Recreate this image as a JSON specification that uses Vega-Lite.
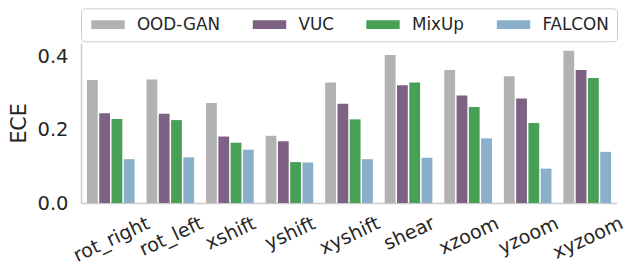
{
  "$schema": "https://vega.github.io/schema/vega-lite/v6.json",
  "width": 536,
  "height": 160,
  "autosize": "none",
  "padding": {"left": 81, "top": 43, "right": 8, "bottom": 62},
  "config": {
    "view": {"stroke": null},
    "font": "DejaVu Sans",
    "axis": {"grid": false, "ticks": false, "domainColor": "#cccccc", "domainWidth": 1.5, "labelColor": "#262626", "titleColor": "#262626", "labelFont": "DejaVu Sans", "titleFont": "DejaVu Sans"}
  },
  "data": {
    "values": [
      {"transform": "rot_right", "method": "OOD-GAN", "ece": 0.337},
      {"transform": "rot_right", "method": "VUC", "ece": 0.246},
      {"transform": "rot_right", "method": "MixUp", "ece": 0.230},
      {"transform": "rot_right", "method": "FALCON", "ece": 0.120},
      {"transform": "rot_left", "method": "OOD-GAN", "ece": 0.338},
      {"transform": "rot_left", "method": "VUC", "ece": 0.244},
      {"transform": "rot_left", "method": "MixUp", "ece": 0.227},
      {"transform": "rot_left", "method": "FALCON", "ece": 0.125},
      {"transform": "xshift", "method": "OOD-GAN", "ece": 0.274},
      {"transform": "xshift", "method": "VUC", "ece": 0.182},
      {"transform": "xshift", "method": "MixUp", "ece": 0.165},
      {"transform": "xshift", "method": "FALCON", "ece": 0.146},
      {"transform": "yshift", "method": "OOD-GAN", "ece": 0.184},
      {"transform": "yshift", "method": "VUC", "ece": 0.169},
      {"transform": "yshift", "method": "MixUp", "ece": 0.112},
      {"transform": "yshift", "method": "FALCON", "ece": 0.111},
      {"transform": "xyshift", "method": "OOD-GAN", "ece": 0.330},
      {"transform": "xyshift", "method": "VUC", "ece": 0.272},
      {"transform": "xyshift", "method": "MixUp", "ece": 0.229},
      {"transform": "xyshift", "method": "FALCON", "ece": 0.120},
      {"transform": "shear", "method": "OOD-GAN", "ece": 0.405},
      {"transform": "shear", "method": "VUC", "ece": 0.322},
      {"transform": "shear", "method": "MixUp", "ece": 0.330},
      {"transform": "shear", "method": "FALCON", "ece": 0.124},
      {"transform": "xzoom", "method": "OOD-GAN", "ece": 0.364},
      {"transform": "xzoom", "method": "VUC", "ece": 0.294},
      {"transform": "xzoom", "method": "MixUp", "ece": 0.263},
      {"transform": "xzoom", "method": "FALCON", "ece": 0.177},
      {"transform": "yzoom", "method": "OOD-GAN", "ece": 0.347},
      {"transform": "yzoom", "method": "VUC", "ece": 0.286},
      {"transform": "yzoom", "method": "MixUp", "ece": 0.219},
      {"transform": "yzoom", "method": "FALCON", "ece": 0.094},
      {"transform": "xyzoom", "method": "OOD-GAN", "ece": 0.417},
      {"transform": "xyzoom", "method": "VUC", "ece": 0.364},
      {"transform": "xyzoom", "method": "MixUp", "ece": 0.342},
      {"transform": "xyzoom", "method": "FALCON", "ece": 0.140}
    ]
  },
  "mark": {"type": "bar"},
  "encoding": {
    "x": {
      "field": "transform",
      "type": "nominal",
      "sort": ["rot_right", "rot_left", "xshift", "yshift", "xyshift", "shear", "xzoom", "yzoom", "xyzoom"],
      "scale": {"paddingInner": 0.2, "paddingOuter": 0.1},
      "axis": {
        "title": null,
        "labelAngle": -25,
        "labelAlign": "center",
        "labelBaseline": "top",
        "labelOffset": -3,
        "labelFontSize": 19.2,
        "labelPadding": {
          "condition": [
            {"test": "datum.value == 'rot_right'", "value": 27.9},
            {"test": "datum.value == 'rot_left'", "value": 25.0},
            {"test": "datum.value == 'xyzoom'", "value": 26.4},
            {"test": "indexof(['xyshift','xzoom','yzoom'], datum.value) >= 0", "value": 24.1}
          ],
          "value": 21.8
        }
      }
    },
    "xOffset": {
      "field": "method",
      "type": "nominal",
      "sort": ["OOD-GAN", "VUC", "MixUp", "FALCON"],
      "scale": {"paddingInner": 0.12}
    },
    "y": {
      "field": "ece",
      "type": "quantitative",
      "scale": {"domain": [0, 0.438], "nice": false},
      "axis": {"title": "ECE", "values": [0, 0.2, 0.4], "format": ".1f", "labelFontSize": 19.5, "labelPadding": 13, "titleFontSize": 20.5, "titleFontWeight": "normal", "titlePadding": 7}
    },
    "color": {
      "field": "method",
      "type": "nominal",
      "scale": {"domain": ["OOD-GAN", "VUC", "MixUp", "FALCON"], "range": ["#b2b2b2", "#7e6284", "#47a055", "#8aafca"]},
      "legend": {
        "title": null,
        "orient": "none",
        "legendX": 0,
        "legendY": -34.7,
        "direction": "horizontal",
        "columns": 4,
        "columnPadding": 29.5,
        "padding": 7.5,
        "strokeColor": "#cccccc",
        "fillColor": "white",
        "cornerRadius": 4,
        "symbolType": "M-3,-0.8H3V0.8H-3Z",
        "symbolSize": 124,
        "symbolOffset": 11.1,
        "symbolStrokeWidth": 0,
        "symbolOpacity": 1,
        "labelFontSize": 16.8,
        "labelOffset": 20.5,
        "labelColor": "#262626",
        "labelFont": "DejaVu Sans"
      }
    }
  }
}
